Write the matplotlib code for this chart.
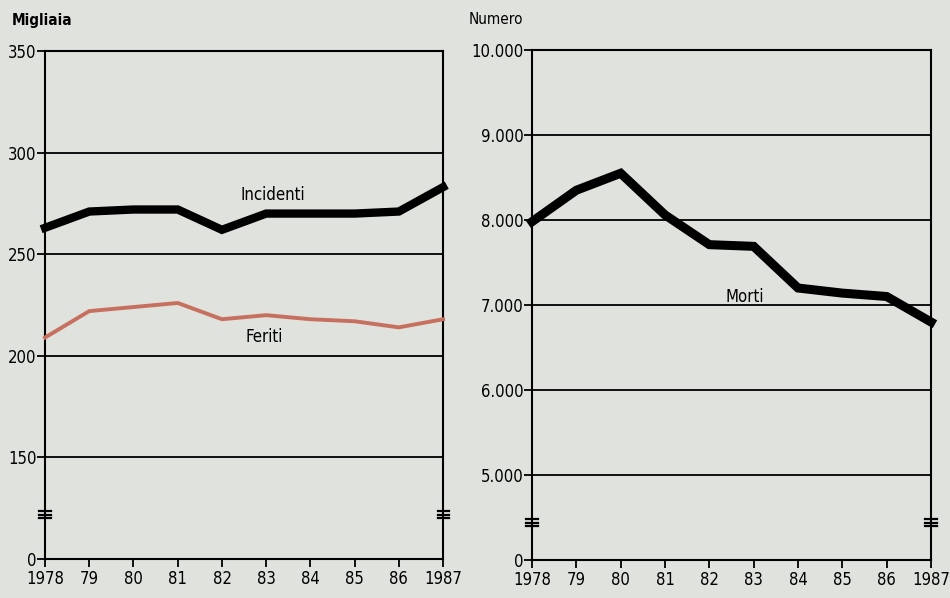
import matplotlib
matplotlib.use("Agg")
import matplotlib.pyplot as plt

years = [1978, 1979, 1980, 1981, 1982, 1983, 1984, 1985, 1986, 1987]
year_labels = ["1978", "79", "80", "81", "82", "83", "84", "85", "86", "1987"]

incidenti = [263, 271, 272, 272, 262, 270, 270, 270, 271, 283]   # migliaia
feriti = [209, 222, 224, 226, 218, 220, 218, 217, 214, 218]      # migliaia
morti = [7980, 8350, 8550, 8060, 7710, 7690, 7200, 7140, 7100, 6800]

left_ticks = [100, 150, 200, 250, 300, 350]
left_ticklabels = ["0", "150", "200", "250", "300", "350"]
right_ticks = [4000, 5000, 6000, 7000, 8000, 9000, 10000]
right_ticklabels = ["0", "5.000", "6.000", "7.000", "8.000", "9.000", "10.000"]

BG = "#dfe2dd"
plt.rcParams["font.family"] = ["DejaVu Sans"]
plt.rcParams["font.stretch"] = "condensed"

fig = plt.figure(figsize=(9.5, 5.98), dpi=100)
fig.patch.set_facecolor(BG)

ax1 = fig.add_axes([0.0474, 0.0652, 0.419, 0.8495])
ax2 = fig.add_axes([0.560, 0.0635, 0.420, 0.8529])


def style(ax, ticks, ticklabels, ylim, brk):
    ax.set_facecolor(BG)
    ax.set_xlim(years[0], years[-1])
    ax.set_ylim(*ylim)
    ax.set_xticks(years)
    ax.set_xticklabels(year_labels, fontsize=12, fontstretch="condensed")
    ax.set_yticks(ticks)
    ax.set_yticklabels(ticklabels, fontsize=12, fontstretch="condensed")
    for s in ax.spines.values():
        s.set_color("black")
        s.set_linewidth(1.5)
    ax.tick_params(axis="both", direction="out", length=6, width=1.3,
                   colors="black", pad=2)
    ax.tick_params(axis="y", pad=0)
    for t in ticks[1:-1]:
        ax.axhline(t, color="black", lw=1.3, zorder=1)
    for xa in (0, 1):
        for dy in (-0.007, 0.0, 0.007):
            ax.plot([xa - 0.014, xa + 0.014], [brk + dy, brk + dy],
                    transform=ax.transAxes, color="black", lw=1.6,
                    clip_on=False, zorder=5)


style(ax1, left_ticks, left_ticklabels, (100, 350), 0.087)
style(ax2, right_ticks, right_ticklabels, (4000, 10000), 0.073)

ax1.plot(years, incidenti, color="black", lw=6, solid_joinstyle="miter",
         zorder=3, clip_on=False)
ax1.plot(years, feriti, color="#c8705f", lw=2.8, zorder=3, clip_on=False)
ax2.plot(years, morti, color="black", lw=6.5, solid_joinstyle="miter",
         zorder=3, clip_on=False)

ax1.text(1983.15, 279, "Incidenti", fontsize=12, ha="center", va="center",
         fontstretch="condensed")
ax1.text(1982.95, 209.5, "Feriti", fontsize=12, ha="center", va="center",
         fontstretch="condensed")
ax2.text(1982.8, 7100, "Morti", fontsize=12, ha="center", va="center",
         fontstretch="condensed")

fig.text(0.012, 0.965, "Migliaia", fontsize=11, fontweight="bold",
         ha="left", va="center", fontstretch="condensed")
fig.text(0.493, 0.968, "Numero", fontsize=11, ha="left", va="center",
         fontstretch="condensed")

fig.savefig("out.png", dpi=100, facecolor=BG)
